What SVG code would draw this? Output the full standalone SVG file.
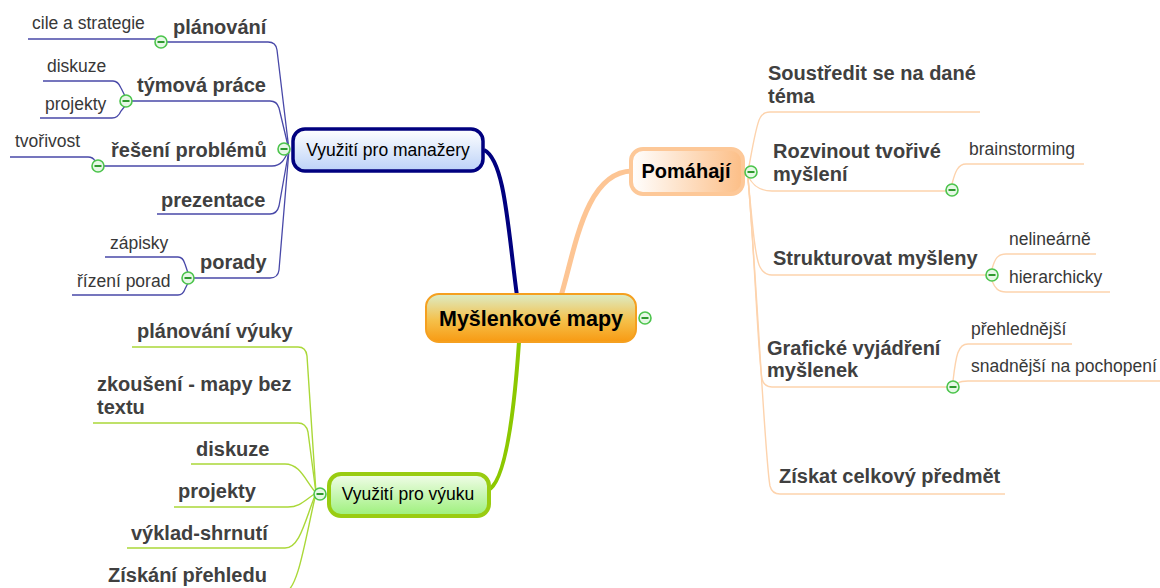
<svg xmlns="http://www.w3.org/2000/svg" width="1160" height="588" viewBox="0 0 1160 588">
<defs>
<linearGradient id="gCentral" x1="0" y1="0" x2="0" y2="1">
<stop offset="0" stop-color="#dcecc6"/><stop offset="0.55" stop-color="#f5c04a"/><stop offset="1" stop-color="#f89a12"/>
</linearGradient>
<linearGradient id="gMgr" x1="0" y1="0" x2="0" y2="1">
<stop offset="0" stop-color="#ffffff"/><stop offset="1" stop-color="#bcd2f8"/>
</linearGradient>
<linearGradient id="gPom" x1="0" y1="0" x2="1" y2="0">
<stop offset="0" stop-color="#ffffff"/><stop offset="1" stop-color="#fcbe86"/>
</linearGradient>
<linearGradient id="gVyu" x1="0" y1="0" x2="0" y2="1">
<stop offset="0" stop-color="#f2fdea"/><stop offset="1" stop-color="#9cf07a"/>
</linearGradient>
<g id="col">
<circle r="6" fill="#e6f8e6" stroke="#4cc44c" stroke-width="1.6"/>
<line x1="-3.5" y1="0" x2="3.5" y2="0" stroke="#2f9a2f" stroke-width="2"/>
</g>
</defs>
<style>
.t{font-family:"Liberation Sans",Arial,sans-serif}
.sub{font-size:20px;font-weight:bold;fill:#404040}
.leaf{font-size:17.5px;fill:#383838}
.mgr{fill:none;stroke:#4848a8;stroke-width:1.3}
.pom{fill:none;stroke:#fdd3ad;stroke-width:1.4}
.vyu{fill:none;stroke:#aad838;stroke-width:1.4}
</style>
<rect width="1160" height="588" fill="#ffffff"/>
<g id="connectors">
<path d="M484,150 C505,160 508,230 517,296" fill="none" stroke="#00007f" stroke-width="4"/>
<path d="M561,296 C575,250 585,172 632,171" fill="none" stroke="#fdc594" stroke-width="5"/>
<path d="M519,342 C515,400 507,482 488,490" fill="none" stroke="#8cc800" stroke-width="4"/>
<path class="mgr" d="M289,150 L277,50 Q276,42 268,42 H167"/>
<path class="mgr" d="M289,150 L279,108 Q277,101 270,101 H132"/>
<path class="mgr" d="M289,150 C285,158 282,166 272,166 H104"/>
<path class="mgr" d="M289,150 L279,206 Q277,214 270,214 H157"/>
<path class="mgr" d="M289,150 L279,270 Q278,278 270,278 H194"/>
<path class="mgr" d="M28,39 H154 Q158,39 160,41"/>
<path class="mgr" d="M43,81 H113 Q118,81 121,88 L125,96"/>
<path class="mgr" d="M40,118 H112 Q118,118 121,111 L125,106"/>
<path class="mgr" d="M10,157 H88 Q93,157 95,161 L97,163"/>
<path class="mgr" d="M105,257 H178 Q183,257 185,264 L188,273"/>
<path class="mgr" d="M72,295 H178 Q183,295 185,289 L188,283"/>
<path class="pom" d="M748,172 C752,150 756,125 760,118 Q763,112 770,112 H980"/>
<path class="pom" d="M748,176 C752,184 758,191 772,191 H946"/>
<path class="pom" d="M748,178 C752,220 755,258 760,267 Q764,275 772,275 H986"/>
<path class="pom" d="M748,178 C755,260 758,355 762,379 Q764,387 772,387 H947"/>
<path class="pom" d="M748,178 C758,300 765,460 770,486 Q772,494 780,494 H1005"/>
<path class="pom" d="M952,184 C955,172 958,164 966,164 H1084"/>
<path class="pom" d="M992,269 C995,258 998,254 1006,254 H1096"/>
<path class="pom" d="M992,281 C995,288 998,292 1006,292 H1110"/>
<path class="pom" d="M953,381 C956,355 958,344 968,344 H1072"/>
<path class="pom" d="M958,383 C961,381 963,381 968,381 H1160"/>
<path class="vyu" d="M316,493 L307,356 Q306,347 298,347 H132"/>
<path class="vyu" d="M316,493 L308,432 Q306,423 298,423 H93"/>
<path class="vyu" d="M316,493 C305,480 300,464 285,464 H191"/>
<path class="vyu" d="M316,493 C305,500 300,507 288,507 H174"/>
<path class="vyu" d="M316,493 C305,520 300,548 285,548 H127"/>
<path class="vyu" d="M316,493 C305,540 298,590 285,592 H100"/>
</g>
<g id="central">
<rect x="426" y="294" width="210" height="48" rx="13" fill="url(#gCentral)" stroke="#f5a020" stroke-width="2"/>
<text class="t" x="531" y="326" text-anchor="middle" font-size="21.5" font-weight="bold" fill="#000">Myšlenkové mapy</text>
<use href="#col" x="645" y="318"/>
</g>
<g id="manazery">
<rect x="293" y="129" width="190" height="42" rx="12" fill="url(#gMgr)" stroke="#00007f" stroke-width="3.5"/>
<text class="t" x="388" y="156" text-anchor="middle" font-size="17.5" fill="#000">Využití pro manažery</text>
<use href="#col" x="284" y="149"/>
</g>
<g id="planovani"><text class="t sub" x="173" y="34">plánování</text><use href="#col" x="161" y="42"/></g>
<g id="cile"><text class="t leaf" x="32" y="29">cile a strategie</text></g>
<g id="tymova"><text class="t sub" x="137" y="92">týmová práce</text><use href="#col" x="126" y="101"/></g>
<g id="diskuze1"><text class="t leaf" x="47" y="72">diskuze</text></g>
<g id="projekty1"><text class="t leaf" x="45" y="110">projekty</text></g>
<g id="reseni"><text class="t sub" x="111" y="157">řešení problémů</text><use href="#col" x="98" y="166"/></g>
<g id="tvorivost"><text class="t leaf" x="15" y="147">tvořivost</text></g>
<g id="prezentace"><text class="t sub" x="161" y="207">prezentace</text></g>
<g id="porady"><text class="t sub" x="200" y="269">porady</text><use href="#col" x="188" y="278"/></g>
<g id="zapisky"><text class="t leaf" x="110" y="249">zápisky</text></g>
<g id="rizeni"><text class="t leaf" x="77" y="287">řízení porad</text></g>
<g id="pomahaji">
<rect x="631" y="149" width="112" height="45" rx="12" fill="url(#gPom)" stroke="#fdc898" stroke-width="4"/>
<text class="t" x="686" y="178" text-anchor="middle" font-size="20" font-weight="bold" fill="#000">Pomáhají</text>
<use href="#col" x="751" y="172"/>
</g>
<g id="soustredit"><text class="t sub" x="768" y="80">Soustředit se na dané</text><text class="t sub" x="768" y="103">téma</text></g>
<g id="rozvinout"><text class="t sub" x="773" y="158">Rozvinout tvořivé</text><text class="t sub" x="773" y="181">myšlení</text><use href="#col" x="952" y="190"/></g>
<g id="brainstorming"><text class="t leaf" x="969" y="155">brainstorming</text></g>
<g id="strukturovat"><text class="t sub" x="773" y="265">Strukturovat myšleny</text><use href="#col" x="992" y="275"/></g>
<g id="nelinearne"><text class="t leaf" x="1009" y="245">nelineárně</text></g>
<g id="hierarchicky"><text class="t leaf" x="1009" y="283">hierarchicky</text></g>
<g id="graficke"><text class="t sub" x="767" y="355">Grafické vyjádření</text><text class="t sub" x="767" y="377">myšlenek</text><use href="#col" x="953" y="387"/></g>
<g id="prehlednejsi"><text class="t leaf" x="971" y="335">přehlednější</text></g>
<g id="snadnejsi"><text class="t leaf" x="971" y="372">snadnější na pochopení</text></g>
<g id="ziskat"><text class="t sub" x="779" y="483">Získat celkový předmět</text></g>
<g id="vyuka">
<rect x="329" y="474" width="160" height="42" rx="12" fill="url(#gVyu)" stroke="#99cc11" stroke-width="4"/>
<text class="t" x="408" y="500" text-anchor="middle" font-size="17.5" fill="#000">Využití pro výuku</text>
<use href="#col" x="320" y="494"/>
</g>
<g id="planovani-vyuky"><text class="t sub" x="137" y="338">plánování výuky</text></g>
<g id="zkouseni"><text class="t sub" x="97" y="391">zkoušení - mapy bez</text><text class="t sub" x="97" y="414">textu</text></g>
<g id="diskuze2"><text class="t sub" x="196" y="456">diskuze</text></g>
<g id="projekty2"><text class="t sub" x="178" y="498">projekty</text></g>
<g id="vyklad"><text class="t sub" x="131" y="540">výklad-shrnutí</text></g>
<g id="prehled"><text class="t sub" x="108" y="582">Získání přehledu</text></g>
</svg>
